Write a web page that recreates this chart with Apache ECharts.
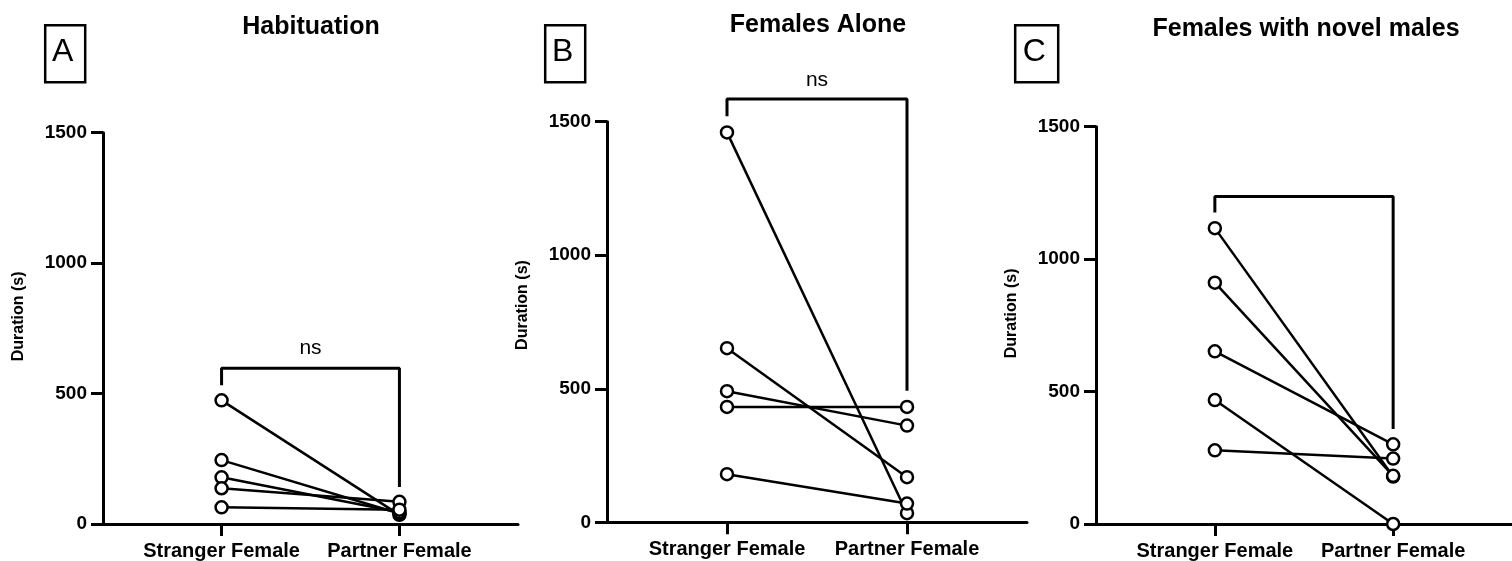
<!DOCTYPE html>
<html>
<head>
<meta charset="utf-8">
<script src="https://cdn.jsdelivr.net/npm/echarts@6/dist/echarts.min.js"></script>
<style>
html,body{margin:0;padding:0;background:#fff;}
#chart{width:1512px;height:561px;}
</style>
</head>
<body>
<div id="chart"></div>
<script>
// ---- data ----
const categories = ['Stranger Female', 'Partner Female'];
const panelTitles = ['Habituation', 'Females Alone', 'Females with novel males'];
const panelLetters = ['A', 'B', 'C'];
const yTicks = [0, 500, 1000, 1500];

const habStranger   = [474, 245, 179, 137, 64];
const habPartner    = [35, 40, 45, 85, 55];
const aloneStranger = [1460, 652, 491, 432, 180];
const alonePartner  = [34, 169, 362, 432, 70];
const novelStranger = [1117, 911, 652, 468, 278];
const novelPartner  = [179, 182, 301, 0, 247];

// bracket: [left end, top, right end]
const habBracket   = [532, 597, 142];
const aloneBracket = [1520, 1585, 493];
const novelBracket = [1176, 1236, 359];
const sigLabels = ['ns', 'ns', ''];
const sigLabelY = [673, 1655, null];

// ---- build ----
const FONT = '"Liberation Sans", Arial, Helvetica, sans-serif';
const panels = [
  {s: habStranger, p: habPartner, b: habBracket},
  {s: aloneStranger, p: alonePartner, b: aloneBracket},
  {s: novelStranger, p: novelPartner, b: novelBracket}
];
const grids = [
  {left: 103, top: 132.7, width: 415, height: 392.3},
  {left: 607, top: 121.7, width: 420, height: 400.6},
  {left: 1096, top: 126.7, width: 424, height: 397.3}
];
const titlePos = [{x: 311, y: 15}, {x: 818, y: 13}, {x: 1306, y: 17}];
const boxPos = [{x: 42.7, w: 40}, {x: 542.7, w: 40}, {x: 1012.7, w: 43}];
const namePad = [24, 34, 24];

const xAxes = [], yAxes = [], series = [], titles = [], graphics = [];
grids.forEach((g, i) => {
  xAxes.push({
    gridIndex: i, type: 'value', min: -2/3, max: 5/3,
    axisLine: {show: true, onZero: false, lineStyle: {color: '#000', width: 3}},
    axisTick: {show: true, customValues: [0, 1], length: 12, lineStyle: {color: '#000', width: 3}},
    axisLabel: {show: true, customValues: [0, 1], formatter: v => categories[Math.round(v)] || '',
      color: '#000', fontWeight: 'bold', fontSize: 20, fontFamily: FONT, margin: 17},
    splitLine: {show: false}
  });
  yAxes.push({
    gridIndex: i, type: 'value', min: yTicks[0], max: yTicks[yTicks.length - 1], interval: 500,
    name: 'Duration (s)', nameLocation: 'middle', nameGap: 76,
    nameTextStyle: {color: '#000', fontWeight: 'bold', fontSize: 16, fontFamily: FONT, padding: [0, 0, 0, namePad[i]]},
    axisLine: {show: true, onZero: false, lineStyle: {color: '#000', width: 3}},
    axisTick: {show: true, length: 12, lineStyle: {color: '#000', width: 3}},
    axisLabel: {color: '#000', fontWeight: 'bold', fontSize: 19, fontFamily: FONT, margin: 16,
      formatter: v => String(v)},
    splitLine: {show: false}
  });
  const P = panels[i];
  // bracket
  series.push({
    type: 'line', xAxisIndex: i, yAxisIndex: i, symbol: 'none', clip: false,
    data: [[0, P.b[0]], [0, P.b[1]], [1, P.b[1]], [1, P.b[2]]],
    lineStyle: {color: '#000', width: 3}, z: 1
  });
  // paired lines
  P.s.forEach((sv, j) => {
    series.push({
      type: 'line', xAxisIndex: i, yAxisIndex: i, clip: false,
      data: [[0, sv], [1, P.p[j]]],
      symbol: 'circle', symbolSize: 12,
      lineStyle: {color: '#000', width: 2.5},
      itemStyle: {color: '#fff', borderColor: '#000', borderWidth: 2.5},
      z: 2
    });
  });
  if (sigLabels[i]) {
    series.push({
      type: 'scatter', xAxisIndex: i, yAxisIndex: i, clip: false,
      data: [[0.5, sigLabelY[i]]], symbolSize: 1,
      itemStyle: {color: 'rgba(0,0,0,0)'},
      label: {show: true, position: 'inside', formatter: sigLabels[i], color: '#000',
        textBorderWidth: 0, opacity: 1, fontSize: 21, fontFamily: FONT}
    });
  }
  titles.push({
    text: panelTitles[i], left: titlePos[i].x, top: titlePos[i].y, textAlign: 'center', padding: 0,
    textStyle: {color: '#000', fontWeight: 'bold', fontSize: 25, fontFamily: FONT}
  });
  graphics.push({
    type: 'rect', left: boxPos[i].x, top: 22.7,
    shape: {width: boxPos[i].w, height: 57},
    style: {fill: 'none', stroke: '#000', lineWidth: 2.5}
  });
  graphics.push({
    type: 'text', x: boxPos[i].x + boxPos[i].w / 2, y: 52,
    style: {text: panelLetters[i], fill: '#000', font: '32px ' + FONT, align: 'center', verticalAlign: 'middle'}
  });
});

const chart = echarts.init(document.getElementById('chart'), null, {renderer: 'canvas'});
chart.setOption({
  backgroundColor: '#fff',
  animation: false,
  title: titles,
  grid: grids,
  xAxis: xAxes,
  yAxis: yAxes,
  series: series,
  graphic: graphics
});
</script>
</body>
</html>
